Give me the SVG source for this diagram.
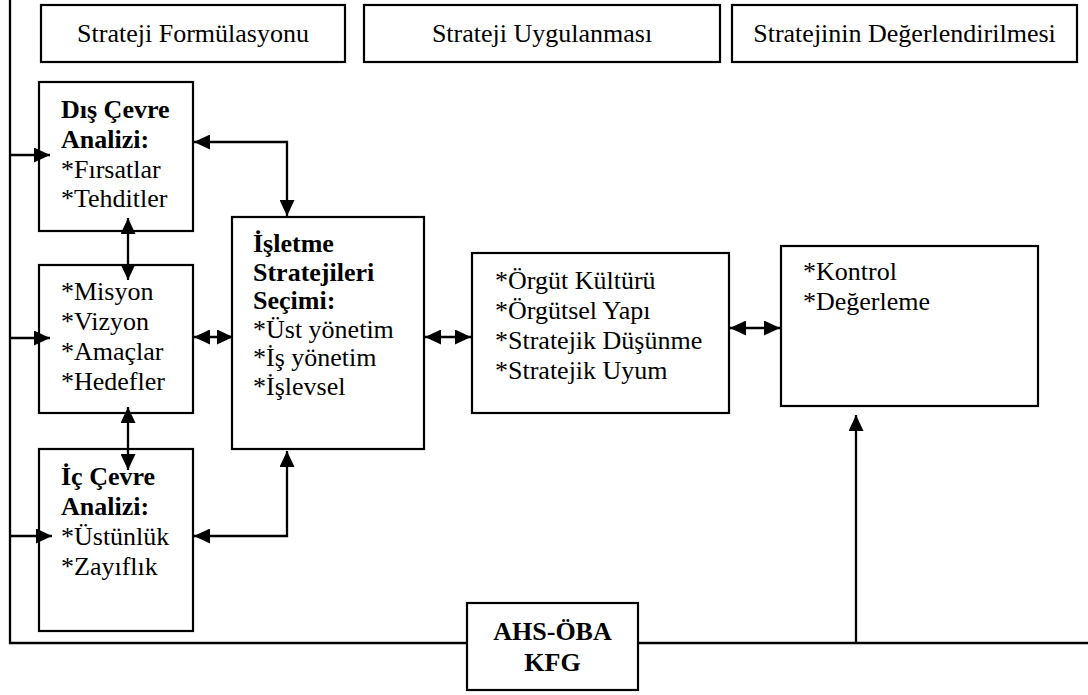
<svg xmlns="http://www.w3.org/2000/svg" width="1088" height="695" viewBox="0 0 1088 695">
<style>
.box{fill:#fff;stroke:#000;stroke-width:2.2}
.t{font-family:"Liberation Serif","Times New Roman",serif;font-size:26px;fill:#000}
.b{font-weight:bold}
.c{text-anchor:middle}
.ln{fill:none;stroke:#000;stroke-width:2.3}
</style>
<defs>
<marker id="ah" markerUnits="userSpaceOnUse" markerWidth="16" markerHeight="15" refX="16" refY="7.5" orient="auto-start-reverse" viewBox="0 0 16 15">
<path d="M0,0 L16,7.5 L0,15 z" fill="#000"/>
</marker>
</defs>
<rect width="1088" height="695" fill="#fff"/>
<g id="h1"><rect class="box" x="41" y="5" width="304" height="57"/><text class="t c" x="193" y="42">Strateji Formülasyonu</text></g>
<g id="h2"><rect class="box" x="364" y="5" width="356" height="57"/><text class="t c" x="542" y="42">Strateji Uygulanması</text></g>
<g id="h3"><rect class="box" x="732" y="5" width="345" height="57"/><text class="t c" x="904.5" y="42">Stratejinin Değerlendirilmesi</text></g>
<g id="connectors">
<path class="ln" d="M10,0 V643 H467 M638,643 H1088"/>
<path class="ln" d="M10,155 H50" marker-end="url(#ah)"/>
<path class="ln" d="M10,338 H50" marker-end="url(#ah)"/>
<path class="ln" d="M10,536 H52" marker-end="url(#ah)"/>
<path class="ln" d="M194,142 H287 V216" marker-start="url(#ah)" marker-end="url(#ah)"/>
<path class="ln" d="M128,218 V280" marker-start="url(#ah)" marker-end="url(#ah)"/>
<path class="ln" d="M128,407 V470" marker-start="url(#ah)" marker-end="url(#ah)"/>
<path class="ln" d="M194,337 H233" marker-start="url(#ah)" marker-end="url(#ah)"/>
<path class="ln" d="M194,536 H287 V451" marker-start="url(#ah)" marker-end="url(#ah)"/>
<path class="ln" d="M425,337 H471" marker-start="url(#ah)" marker-end="url(#ah)"/>
<path class="ln" d="M730,328 H780" marker-start="url(#ah)" marker-end="url(#ah)"/>
<path class="ln" d="M856,643 V415" marker-end="url(#ah)"/>
</g>
<g id="dis"><rect class="box" x="39" y="82" width="154" height="149" style="fill:none"/>
<text class="t"><tspan class="b" x="61" y="118">Dış Çevre</tspan><tspan class="b" x="61" y="148">Analizi:</tspan><tspan x="61" y="178">*Fırsatlar</tspan><tspan x="61" y="207">*Tehditler</tspan></text></g>
<g id="misyon"><rect class="box" x="39" y="265" width="154" height="148" style="fill:none"/>
<text class="t"><tspan x="61" y="300">*Misyon</tspan><tspan x="61" y="330">*Vizyon</tspan><tspan x="61" y="360">*Amaçlar</tspan><tspan x="61" y="390">*Hedefler</tspan></text></g>
<g id="ic"><rect class="box" x="39" y="449" width="154" height="182" style="fill:none"/>
<text class="t"><tspan class="b" x="61" y="485">İç Çevre</tspan><tspan class="b" x="61" y="515">Analizi:</tspan><tspan x="61" y="545">*Üstünlük</tspan><tspan x="61" y="575">*Zayıflık</tspan></text></g>
<g id="isletme"><rect class="box" x="232" y="217" width="192" height="232" style="fill:none"/>
<text class="t"><tspan class="b" x="253" y="252">İşletme</tspan><tspan class="b" x="253" y="281">Stratejileri</tspan><tspan class="b" x="253" y="309">Seçimi:</tspan><tspan x="253" y="338">*Üst yönetim</tspan><tspan x="253" y="366">*İş yönetim</tspan><tspan x="253" y="395">*İşlevsel</tspan></text></g>
<g id="orgut"><rect class="box" x="472" y="253" width="257" height="160" style="fill:none"/>
<text class="t"><tspan x="495" y="289">*Örgüt Kültürü</tspan><tspan x="495" y="319">*Örgütsel Yapı</tspan><tspan x="495" y="349">*Stratejik Düşünme</tspan><tspan x="495" y="379">*Stratejik Uyum</tspan></text></g>
<g id="kontrol"><rect class="box" x="781" y="246" width="257" height="160" style="fill:none"/>
<text class="t"><tspan x="803" y="280">*Kontrol</tspan><tspan x="803" y="310">*Değerleme</tspan></text></g>
<g id="ahs"><rect class="box" x="467" y="603" width="171" height="87"/>
<text class="t b c"><tspan x="552.5" y="640">AHS-ÖBA</tspan><tspan x="552.5" y="671">KFG</tspan></text></g>
</svg>
